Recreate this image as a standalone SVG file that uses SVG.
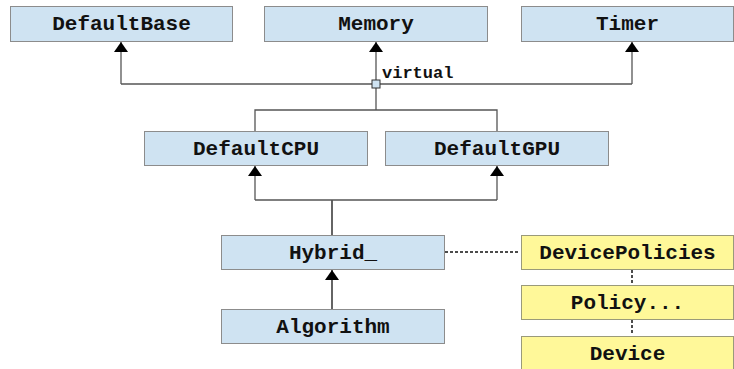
<svg xmlns="http://www.w3.org/2000/svg" width="734" height="369" viewBox="0 0 734 369">
  <style>
    .cls rect { fill: #cfe3f2; stroke: #8c8c8c; stroke-width: 1; }
    .pol rect { fill: #fff899; stroke: #9a9a7a; stroke-width: 1; }
    text { font-family: "Liberation Mono", "Courier New", monospace; font-weight: bold; font-size: 21px; fill: #111; text-anchor: middle; }
    .lbl { font-size: 17px; text-anchor: start; }
    .edge { fill: none; stroke: #555; stroke-width: 1.3; }
    .dark { stroke: #111; }
    .dot { fill: none; stroke: #111; stroke-width: 1.5; stroke-dasharray: 3 2; }
  </style>
  <defs>
    <marker id="tri" viewBox="0 0 10 14" refX="10" refY="7" markerWidth="10" markerHeight="14" markerUnits="userSpaceOnUse" orient="auto">
      <path d="M0,0 L10,7 L0,14 Z" fill="#000"/>
    </marker>
  </defs>

  <g id="connectors">
    <!-- virtual inheritance bus -->
    <path class="edge" d="M121,84 H632"/>
    <path class="edge" d="M121,84 V42" marker-end="url(#tri)"/>
    <path class="edge" d="M376,84 V42" marker-end="url(#tri)"/>
    <path class="edge" d="M632,84 V42" marker-end="url(#tri)"/>
    <path class="edge" d="M376,88 V110 M255,131 V110 H497 V131"/>
    <rect x="372" y="80" width="8" height="8" fill="#cfe3f2" stroke="#333" stroke-width="1"/>
    <text class="lbl" x="382" y="78">virtual</text>
    <!-- Hybrid_ to CPU / GPU -->
    <path class="edge dark" d="M332,235 V200"/>
    <path class="edge" d="M255,200 H497"/>
    <path class="edge" d="M255,200 V166" marker-end="url(#tri)"/>
    <path class="edge" d="M497,200 V166" marker-end="url(#tri)"/>
    <!-- Algorithm to Hybrid_ -->
    <path class="edge dark" d="M332,309 V270" marker-end="url(#tri)"/>
    <!-- policies -->
    <path class="dot" d="M445,252 H520"/>
    <path class="dot" d="M632,270 V285 M632,320 V335"/>
  </g>

  <g id="DefaultBase" class="cls"><rect x="10.5" y="6.5" width="222" height="35"/><text x="121.5" y="30">DefaultBase</text></g>
  <g id="Memory" class="cls"><rect x="264.5" y="6.5" width="223" height="35"/><text x="376" y="30">Memory</text></g>
  <g id="Timer" class="cls"><rect x="521.5" y="6.5" width="212" height="35"/><text x="627.5" y="30">Timer</text></g>
  <g id="DefaultCPU" class="cls"><rect x="144.5" y="131.5" width="223" height="34"/><text x="256" y="155">DefaultCPU</text></g>
  <g id="DefaultGPU" class="cls"><rect x="385.5" y="131.5" width="223" height="34"/><text x="497" y="155">DefaultGPU</text></g>
  <g id="Hybrid_" class="cls"><rect x="221.5" y="235.5" width="223" height="34"/><text x="333" y="259">Hybrid_</text></g>
  <g id="Algorithm" class="cls"><rect x="221.5" y="309.5" width="223" height="34"/><text x="333" y="333">Algorithm</text></g>
  <g id="DevicePolicies" class="pol"><rect x="521.5" y="235.5" width="212" height="34"/><text x="627.5" y="259">DevicePolicies</text></g>
  <g id="Policy" class="pol"><rect x="521.5" y="285.5" width="212" height="34"/><text x="627.5" y="309">Policy...</text></g>
  <g id="Device" class="pol"><rect x="521.5" y="336.5" width="212" height="40"/><text x="627.5" y="360">Device</text></g>
</svg>
